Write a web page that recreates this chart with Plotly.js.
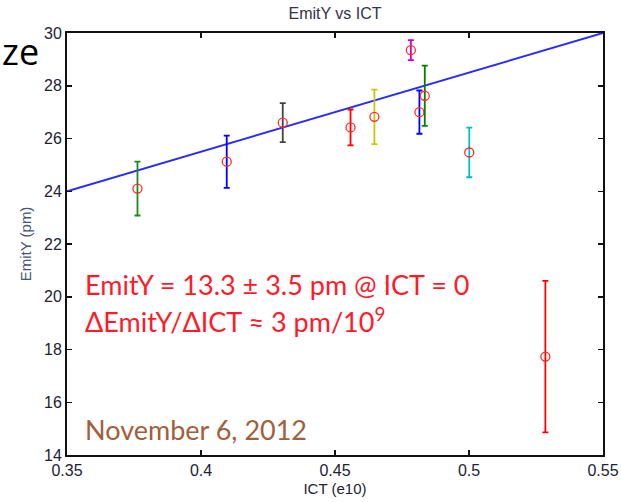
<!DOCTYPE html>
<html>
<head>
<meta charset="utf-8">
<script src="https://cdn.plot.ly/plotly-3.0.1.min.js"></script>
<style>html,body{margin:0;padding:0;background:#fff;}#chart{width:621px;height:502px;}</style>
</head>
<body>
<div id="chart"></div>
<script>
// ---- data ----
const ict      = [0.3763, 0.4096, 0.4305, 0.4558, 0.4647, 0.4783, 0.4815, 0.4835, 0.5001, 0.5285];
const emitY    = [24.1,   25.12,  26.6,   26.42,  26.82,  29.35,  27.0,   27.62,  25.47,  17.73];
const emitErr  = [1.02,   0.99,   0.74,   0.68,   1.03,   0.38,   0.82,   1.14,   0.94,   2.87];
const barColors = ['#1b8a1b', '#0000ff', '#444444', '#ff0000', '#c8c800', '#cc00cc', '#0000ff', '#008000', '#00bfbf', '#ff0000'];
const fitX = [0.35, 0.55];
const fitY = [24.0, 30.0];
const xTickVals = [0.35, 0.4, 0.45, 0.5, 0.55];
const xTickText = ['0.35', '0.4', '0.45', '0.5', '0.55'];
const yTickVals = [14, 16, 18, 20, 22, 24, 26, 28, 30];
const yTickText = ['14', '16', '18', '20', '22', '24', '26', '28', '30'];
const titleText = 'EmitY vs ICT';
const xTitle = 'ICT (e10)';
const yTitle = 'EmitY (pm)';
const note1 = 'EmitY = 13.3 ± 3.5 pm @ ICT = 0';
const note2 = 'ΔEmitY/ΔICT ≈ 3 pm/10<sup>9</sup>';
const note3 = 'November 6, 2012';
const cutText = 'ze';

const traces = [{
  x: fitX, y: fitY, mode: 'lines', type: 'scatter',
  line: {color: '#2a2aff', width: 2}, hoverinfo: 'skip', showlegend: false
}];
for (let i = 0; i < ict.length; i++) {
  traces.push({
    x: [ict[i]], y: [emitY[i]], type: 'scatter', mode: 'markers', showlegend: false,
    marker: {symbol: 'circle-open', size: 9, color: '#ff2a2a', line: {width: 1.3, color: '#ff2a2a'}},
    error_y: {type: 'data', array: [emitErr[i]], visible: true, color: barColors[i], thickness: 1.8, width: 3}
  });
}

const W = 621, H = 502, L = 67, R = 18, T = 33, B = 47;
const pw = W - L - R, ph = H - T - B;
function px(X) { return (X - L) / pw; }
function py(Y) { return (H - B - Y) / ph; }

const tickFont = {family: 'Liberation Sans, Arial, sans-serif', size: 16, color: '#222233'};
const layout = {
  width: W, height: H,
  margin: {l: L, r: R, t: T, b: B, pad: 0},
  paper_bgcolor: '#ffffff', plot_bgcolor: '#ffffff',
  showlegend: false,
  title: {text: titleText, x: 0.5, xref: 'paper', xanchor: 'center', y: 1 - 13 / H, yref: 'container', yanchor: 'middle',
          font: {family: 'Liberation Sans, Arial, sans-serif', size: 16, color: '#333344'}},
  xaxis: {
    range: [0.35, 0.55], tickvals: xTickVals, ticktext: xTickText,
    showgrid: false, zeroline: false, showline: true, linecolor: '#111', linewidth: 2,
    mirror: 'ticks', ticks: 'inside', ticklen: 5, tickwidth: 1.5, tickcolor: '#111',
    tickfont: tickFont,
    title: {text: xTitle, font: {family: 'Liberation Sans, Arial, sans-serif', size: 15, color: '#222233'}, standoff: 5}
  },
  yaxis: {
    range: [14, 30], tickvals: yTickVals, ticktext: yTickText,
    showgrid: false, zeroline: false, showline: true, linecolor: '#111', linewidth: 2,
    mirror: 'ticks', ticks: 'inside', ticklen: 5, tickwidth: 1.5, tickcolor: '#111',
    tickfont: tickFont,
    title: {text: yTitle, font: {family: 'Liberation Sans, Arial, sans-serif', size: 15, color: '#445577'}, standoff: 9}
  },
  annotations: [
    {text: cutText, xref: 'paper', yref: 'paper', x: px(0), y: py(52), xanchor: 'left', yanchor: 'middle',
     showarrow: false, font: {family: 'Open Sans, sans-serif', size: 36, color: '#000'}},
    {text: note1, xref: 'paper', yref: 'paper', x: px(83), y: py(284), xanchor: 'left', yanchor: 'middle',
     showarrow: false, font: {family: 'Lato, sans-serif', size: 27, color: '#ff1a2a'}},
    {text: note2, xref: 'paper', yref: 'paper', x: px(83), y: py(320), xanchor: 'left', yanchor: 'middle',
     showarrow: false, font: {family: 'Lato, sans-serif', size: 27, color: '#ff1a2a'}},
    {text: note3, xref: 'paper', yref: 'paper', x: px(83), y: py(429), xanchor: 'left', yanchor: 'middle',
     showarrow: false, font: {family: 'Lato, sans-serif', size: 27, color: '#a0603c'}}
  ]
};

Plotly.newPlot('chart', traces, layout, {displayModeBar: false, staticPlot: true});
</script>
</body>
</html>
